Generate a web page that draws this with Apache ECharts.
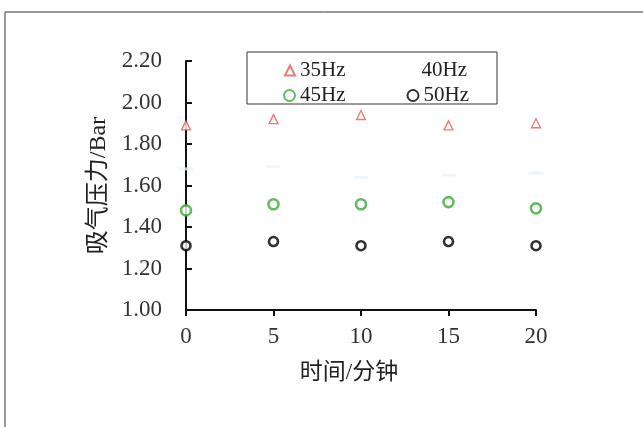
<!DOCTYPE html>
<html><head><meta charset="utf-8">
<script src="https://cdn.jsdelivr.net/npm/echarts@6/dist/echarts.min.js"></script>
<style>html,body{margin:0;padding:0;background:#fff}#c{width:643px;height:427px}</style>
</head><body><div id="c"></div>
<script>
const minutes = [0, 5, 10, 15, 20];
const hz35 = [1.89, 1.92, 1.94, 1.89, 1.90];
const hz40 = [1.68, 1.69, 1.64, 1.65, 1.66];
const hz45 = [1.48, 1.51, 1.51, 1.52, 1.49];
const hz50 = [1.31, 1.33, 1.31, 1.33, 1.31];
const yTicks = ['1.00','1.20','1.40','1.60','1.80','2.00','2.20'];
const seriesNames = ['35Hz','40Hz','45Hz','50Hz'];

const FONT = "'Liberation Serif', 'Noto Sans CJK SC', serif";
const pairs = v => minutes.map((m, i) => [m, v[i]]);
const chart = echarts.init(document.getElementById('c'));
chart.setOption({
  animation: false,
  backgroundColor: '#fff',
  grid: {left: 186, right: 107, top: 61, bottom: 117},
  graphic: [
    {type: 'rect', shape: {x: 5, y: 12, width: 700, height: 500}, style: {fill: 'none', stroke: '#333', lineWidth: 1}, silent: true, z: 0},
    {type: 'rect', shape: {x: 247, y: 52, width: 250, height: 52}, style: {fill: '#fff', stroke: '#333', lineWidth: 1}, silent: true, z: 1}
  ],
  legend: [
    {data: [seriesNames[0], {name: seriesNames[1], itemStyle: {opacity: 0}}], left: 279, top: 55, itemWidth: 10, itemHeight: 10, itemGap: 61, z: 5,
     textStyle: {fontFamily: FONT, fontSize: 21, color: '#222'}},
    {data: [seriesNames[2], seriesNames[3]], left: 278, top: 80, itemWidth: 11, itemHeight: 11, itemGap: 61, z: 5,
     textStyle: {fontFamily: FONT, fontSize: 21, color: '#222'}}
  ],
  xAxis: {
    type: 'value', min: 0, max: 20, interval: 5,
    name: '时间/分钟', nameLocation: 'middle', nameGap: 51,
    nameTextStyle: {fontFamily: FONT, fontSize: 23, color: '#222', padding: [0, 24, 0, 0]},
    axisLine: {lineStyle: {color: '#111', width: 2}},
    axisTick: {inside: false, length: 6, lineStyle: {color: '#111', width: 2}},
    axisLabel: {fontFamily: FONT, fontSize: 23, color: '#333', margin: 15},
    splitLine: {show: false}
  },
  yAxis: {
    type: 'value', min: 1, max: 2.2, interval: 0.2,
    name: '吸气压力/Bar', nameLocation: 'middle', nameGap: 73, nameRotate: 90,
    nameTextStyle: {fontFamily: FONT, fontSize: 24, color: '#222'},
    axisLine: {show: true, lineStyle: {color: '#111', width: 2}},
    axisTick: {show: true, inside: true, length: 6, lineStyle: {color: '#111', width: 2}},
    axisLabel: {fontFamily: FONT, fontSize: 23, color: '#333', margin: 24,
      formatter: v => yTicks[Math.round((v - 1) / 0.2)] || v.toFixed(2)},
    splitLine: {show: false}
  },
  series: [
    {name: seriesNames[0], type: 'scatter', data: pairs(hz35), symbol: 'triangle', symbolSize: 9,
     itemStyle: {color: '#fff', borderColor: '#e85a52', borderWidth: 1.4}},
    {name: seriesNames[1], type: 'scatter', data: pairs(hz40), symbol: 'rect', symbolSize: [14, 3],
     itemStyle: {color: '#eaf4fc', borderColor: '#eaf4fc', borderWidth: 0}},
    {name: seriesNames[2], type: 'scatter', data: pairs(hz45), symbol: 'circle', symbolSize: 10,
     itemStyle: {color: '#fff', borderColor: '#3caa3a', borderWidth: 2.6}},
    {name: seriesNames[3], type: 'scatter', data: pairs(hz50), symbol: 'circle', symbolSize: 9,
     itemStyle: {color: '#fff', borderColor: '#000', borderWidth: 2.6}}
  ]
});
</script></body></html>
